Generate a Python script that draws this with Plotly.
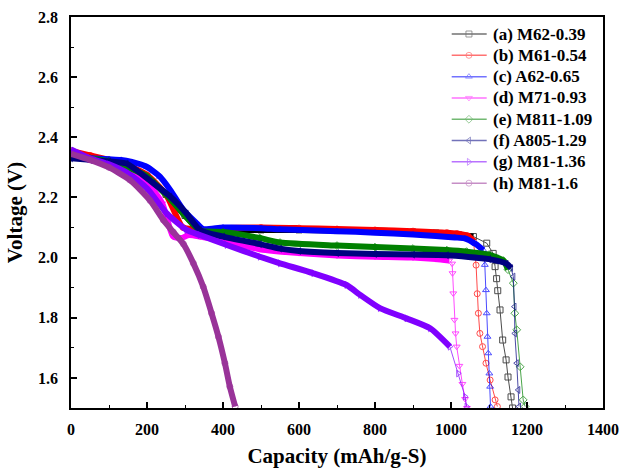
import plotly.graph_objects as go

# ---- data ----
names = ["(a) M62-0.39", "(b) M61-0.54", "(c) A62-0.65", "(d) M71-0.93",
         "(e) M811-1.09", "(f) A805-1.29", "(g) M81-1.36", "(h) M81-1.6"]

cap_a = [0, 50, 100, 150, 200, 250, 300, 330, 345, 400, 500, 600, 700, 800, 900, 960, 1020, 1059,
         1094, 1111, 1116, 1120, 1123, 1129, 1136, 1145, 1150, 1158, 1162]
v_a = [2.35, 2.335, 2.32, 2.30, 2.27, 2.21, 2.14, 2.10, 2.085, 2.09, 2.092, 2.092, 2.09, 2.09, 2.085,
       2.082, 2.076, 2.07, 2.048, 2.014, 1.97, 1.93, 1.89, 1.826, 1.726, 1.66, 1.603, 1.537, 1.50]

cap_b = [0, 50, 100, 150, 200, 250, 295, 330, 345, 400, 500, 600, 700, 800, 900, 989, 1015, 1045,
         1059, 1066, 1069, 1072, 1076, 1083, 1092, 1103, 1116, 1122]
v_b = [2.355, 2.34, 2.325, 2.305, 2.275, 2.21, 2.10, 2.095, 2.09, 2.097, 2.1, 2.098, 2.095, 2.092,
       2.088, 2.083, 2.08, 2.072, 2.055, 1.975, 1.88, 1.815, 1.748, 1.704, 1.649, 1.593, 1.527, 1.505]

cap_c = [0, 50, 100, 132, 160, 199, 234, 261, 296, 331, 348, 400, 500, 550, 700, 800, 900, 960, 1010,
         1036, 1065, 1085, 1089, 1092, 1094, 1096, 1098, 1101, 1103, 1104]
v_c = [2.335, 2.33, 2.327, 2.325, 2.318, 2.302, 2.269, 2.225, 2.158, 2.114, 2.095, 2.100, 2.098, 2.094,
       2.088, 2.083, 2.077, 2.072, 2.067, 2.064, 2.045, 2.025, 1.976, 1.892, 1.815, 1.737, 1.682, 1.615,
       1.571, 1.505]

cap_d = [0, 50, 100, 150, 200, 240, 269, 290, 310, 340, 400, 497, 600, 700, 800, 900, 960, 995, 1003,
         1004, 1006, 1009, 1012, 1015, 1022, 1030, 1037, 1042]
v_d = [2.34, 2.325, 2.31, 2.29, 2.25, 2.18, 2.07, 2.065, 2.075, 2.07, 2.055, 2.028, 2.015, 2.007,
       2.003, 2.0, 1.995, 1.99, 1.98, 1.948, 1.881, 1.793, 1.748, 1.704, 1.64, 1.58, 1.53, 1.50]

cap_e = [0, 50, 100, 150, 200, 250, 300, 339, 400, 497, 550, 700, 800, 900, 989, 1041, 1100, 1138,
         1150, 1164, 1168, 1173, 1182, 1190, 1195]
v_e = [2.34, 2.33, 2.32, 2.30, 2.27, 2.21, 2.14, 2.09, 2.085, 2.065, 2.05, 2.04, 2.035, 2.03, 2.025,
       2.02, 2.01, 1.99, 1.96, 1.915, 1.815, 1.76, 1.637, 1.527, 1.505]

cap_f = [0, 50, 100, 146, 217, 261, 304, 339, 400, 497, 550, 600, 700, 800, 900, 989, 1100, 1146,
         1158, 1164, 1167, 1168, 1173, 1177, 1179]
v_f = [2.33, 2.325, 2.32, 2.313, 2.247, 2.203, 2.147, 2.092, 2.07, 2.045, 2.03, 2.022, 2.015, 2.012,
       2.01, 2.008, 1.995, 1.98, 1.965, 1.937, 1.837, 1.748, 1.649, 1.56, 1.505]

cap_g = [0, 50, 100, 150, 200, 252, 304, 339, 410, 497, 550, 638, 725, 761, 813, 883, 945, 997,
         1019, 1037, 1041]
v_g = [2.36, 2.33, 2.31, 2.28, 2.23, 2.147, 2.092, 2.075, 2.042, 2.003, 1.981, 1.948, 1.909, 1.876,
       1.832, 1.798, 1.765, 1.704, 1.615, 1.538, 1.505]

cap_h = [0, 50, 100, 155, 208, 243, 269, 296, 322, 348, 370, 388, 405, 418, 432]
v_h = [2.345, 2.325, 2.30, 2.258, 2.19, 2.125, 2.085, 2.045, 1.981, 1.903, 1.815, 1.737, 1.649, 1.571,
       1.505]

caps = [cap_a, cap_b, cap_c, cap_d, cap_e, cap_f, cap_g, cap_h]
volts = [v_a, v_b, v_c, v_d, v_e, v_f, v_g, v_h]

# ---- styles ----
colors = ["#000000", "#FF0000", "#0000FF", "#FF00FF", "#008000", "#000080", "#8000FF", "#993399"]
symbols = ["square-open", "circle-open", "triangle-up-open", "triangle-down-open",
           "diamond-open", "triangle-left-open", "triangle-right-open", "circle-open"]
band_end = [1059, 1059, 1085, 995, 1150, 1158, 997, 432]  # dense-marker band extent

font_family = "Liberation Serif, Times New Roman, serif"

fig = go.Figure()
for i in range(8):
    xs, ys = caps[i], volts[i]
    bx = [x for x in xs if x <= band_end[i]]
    by = ys[:len(bx)]
    fig.add_trace(go.Scatter(x=xs, y=ys, mode="lines+markers", showlegend=False,
                             line=dict(color=colors[i], width=1),
                             marker=dict(symbol=symbols[i], size=6, color=colors[i],
                                         line=dict(width=1, color=colors[i])),
                             opacity=0.7))
    fig.add_trace(go.Scatter(x=bx, y=by, mode="lines", showlegend=False,
                             line=dict(color=colors[i], width=6, shape="spline", smoothing=0.6)))

# ---- hand-placed legend (paper coordinates via an overlay axis pair) ----
leg_x0, leg_x1, leg_xm, leg_xt = 0.7156, 0.7814, 0.748, 0.789
leg_y0, leg_dy = 0.9565, 0.0545
for i in range(8):
    yy = leg_y0 - i * leg_dy
    fig.add_trace(go.Scatter(x=[leg_x0, leg_xm, leg_x1], y=[yy, yy, yy], xaxis="x2", yaxis="y2",
                             mode="lines+markers", showlegend=False, hoverinfo="skip",
                             line=dict(color=colors[i], width=1.5),
                             marker=dict(symbol=symbols[i], size=[0, 6, 0], color=colors[i],
                                         line=dict(width=1, color=colors[i])),
                             opacity=0.55))
    fig.add_annotation(x=leg_xt, y=yy, xref="paper", yref="paper", xanchor="left", yanchor="middle",
                       text="<b>%s</b>" % names[i], showarrow=False,
                       font=dict(family=font_family, size=17, color="black"))

axis_common = dict(showline=True, linecolor="black", linewidth=1.5, mirror=True,
                   ticks="inside", ticklen=6, tickwidth=1.5, tickcolor="black",
                   showgrid=False, zeroline=False, automargin=False,
                   tickfont=dict(family=font_family, size=16, color="black", weight="bold"))

fig.update_layout(
    width=627, height=468,
    margin=dict(l=71, r=24, t=17, b=60),
    plot_bgcolor="white", paper_bgcolor="white",
    showlegend=False,
    xaxis=dict(range=[0, 1400], dtick=200, tick0=0,
               minor=dict(ticks="inside", ticklen=3, dtick=100, tickcolor="black", tickwidth=1.2),
               title=dict(text="<b>Capacity (mAh/g-S)</b>",
                          font=dict(family=font_family, size=21, color="black"), standoff=12),
               ticklabelstandoff=6, **axis_common),
    yaxis=dict(range=[1.5, 2.8], dtick=0.2, tick0=1.6, tickformat=".1f",
               minor=dict(ticks="inside", ticklen=3, dtick=0.1, tickcolor="black", tickwidth=1.2),
               title=dict(text="<b>Voltage (V)</b>",
                          font=dict(family=font_family, size=21, color="black"), standoff=10),
               ticklabelstandoff=8, **axis_common),
    xaxis2=dict(range=[0, 1], overlaying="x", visible=False, fixedrange=True),
    yaxis2=dict(range=[0, 1], overlaying="y", visible=False, fixedrange=True),
)

fig.write_html("out.html", config={"responsive": False, "displayModeBar": False},
               default_width="627px", default_height="468px",
               post_script="document.body.style.margin='0px';document.body.style.padding='0px';"
                           "document.body.style.overflow='hidden';")
